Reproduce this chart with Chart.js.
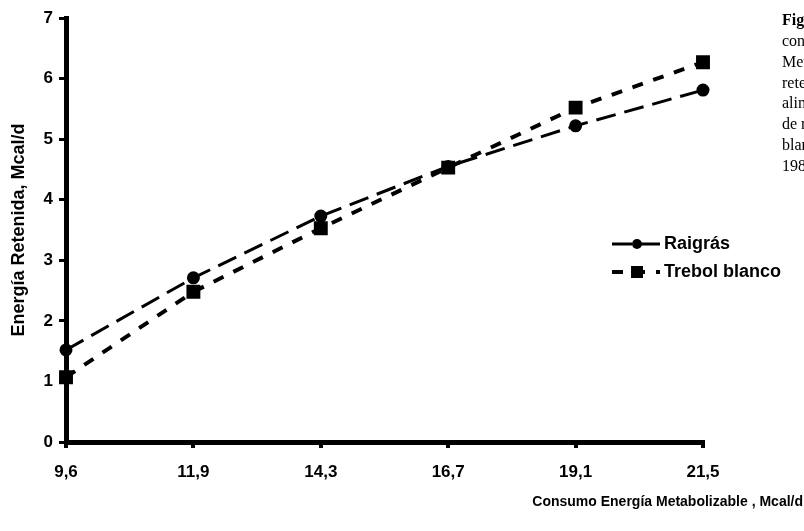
<!DOCTYPE html>
<html>
<head>
<meta charset="utf-8">
<script src="https://cdn.jsdelivr.net/npm/chart.js@4"></script>
<style>
    html, body { margin: 0; padding: 0; background: #fff; }
    #wrap { width: 804px; height: 531px; position: relative; }
</style>
</head>
<body>
<div id="wrap"><canvas id="energy-chart"></canvas></div>
<script>
const consumoLabels = ["9,6", "11,9", "14,3", "16,7", "19,1", "21,5"];
const raigrasValues = [1.52, 2.71, 3.73, 4.55, 5.22, 5.81];
const trebolValues = [1.07, 2.48, 3.53, 4.53, 5.52, 6.27];
const yTicks = [0, 1, 2, 3, 4, 5, 6, 7];
const captionLines = [
    "Figura 4. Relación entre el",
    "consumo de Energía",
    "Metabolizable y la energía",
    "retenida en novillos",
    "alimentados con dietas",
    "de raigrás o trébol",
    "blanco (Rattray y Joyce,",
    "1984)"
];

const energyChartCanvas = document.querySelector("#energy-chart");
const boldFont = "'Liberation Sans', Arial, sans-serif";

// legend, caption and x title drawn by hand
const extrasPlugin = {
    id: 'extras',
    afterDraw: function (chart) {
        const ctx = chart.ctx;
        ctx.save();

        // legend
        const items = chart.data.datasets;
        items.forEach(function (ds, i) {
            const y = 244 + i * 28;
            ctx.strokeStyle = "#000";
            ctx.lineWidth = ds.borderWidth;
            ctx.setLineDash(ds.borderDash);
            ctx.beginPath();
            ctx.moveTo(612, y);
            ctx.lineTo(660, y);
            ctx.stroke();
            ctx.setLineDash([]);
            ctx.fillStyle = "#000";
            if (ds.pointStyle === 'rect') {
                ctx.fillRect(631, y - 6, 12, 12);
            } else {
                ctx.beginPath();
                ctx.arc(637, y, 5, 0, Math.PI * 2);
                ctx.fill();
            }
            ctx.font = "bold 18px " + boldFont;
            ctx.textBaseline = 'middle';
            ctx.textAlign = 'left';
            ctx.fillText(ds.label, 664, y);
        });

        // x axis title
        ctx.font = "bold 14px " + boldFont;
        ctx.textAlign = 'right';
        ctx.textBaseline = 'middle';
        ctx.fillText("Consumo Energía Metabolizable , Mcal/d", 803, 502);

        // caption (cut off at the right edge)
        ctx.textAlign = 'left';
        ctx.textBaseline = 'middle';
        captionLines.forEach(function (line, i) {
            ctx.font = (i === 0 ? "bold " : "") + "16px 'Liberation Serif', 'Times New Roman', serif";
            ctx.fillText(line, 782, 21 + i * 20.8);
        });
        ctx.restore();
    }
};

const energyChartConfig = {
    type: 'line',
    data: {
        labels: consumoLabels,
        datasets: [{
            label: 'Raigrás',
            data: raigrasValues,
            borderColor: "#000",
            backgroundColor: "#000",
            borderWidth: 3,
            borderDash: [20, 9],
            pointStyle: 'circle',
            pointRadius: 5,
            tension: 0,
        }, {
            label: 'Trebol blanco',
            data: trebolValues,
            borderColor: "#000",
            backgroundColor: "#000",
            borderWidth: 4,
            borderDash: [11, 11],
            pointStyle: 'rect',
            pointRadius: 7,
            tension: 0,
        }]
    },
    options: {
        responsive: false,
        animation: false,
        layout: {
            padding: { left: 0, right: 101, top: 18, bottom: 0 }
        },
        plugins: {
            legend: { display: false },
            tooltip: { enabled: false },
        },
        scales: {
            x: {
                type: 'category',
                offset: false,
                border: { display: true, color: "#000", width: 5 },
                grid: {
                    drawOnChartArea: false,
                    drawTicks: true,
                    tickLength: 6,
                    lineWidth: 4,
                    color: "#000",
                },
                ticks: {
                    color: "#000",
                    padding: 14,
                    maxRotation: 0,
                    font: { family: boldFont, size: 17, weight: 'bold' },
                },
                afterFit: function (scale) { scale.height = 89; },
            },
            y: {
                min: 0,
                max: 7,
                afterBuildTicks: function (scale) {
                    scale.ticks = yTicks.map(v => ({ value: v }));
                },
                border: { display: true, color: "#000", width: 5 },
                grid: {
                    drawOnChartArea: false,
                    drawTicks: true,
                    tickLength: 7,
                    lineWidth: 3,
                    color: "#000",
                },
                ticks: {
                    color: "#000",
                    padding: 6,
                    font: { family: boldFont, size: 17, weight: 'bold' },
                },
                title: {
                    display: true,
                    text: "Energía Retenida, Mcal/d",
                    color: "#000",
                    padding: { top: 8, bottom: 0 },
                    font: { family: boldFont, size: 18, weight: 'bold' },
                },
                afterFit: function (scale) { scale.width = 66; },
            }
        }
    },
    plugins: [extrasPlugin]
};

energyChartCanvas.width = 804;
energyChartCanvas.height = 531;
const energyChart = new Chart(energyChartCanvas, energyChartConfig);
</script>
</body>
</html>
